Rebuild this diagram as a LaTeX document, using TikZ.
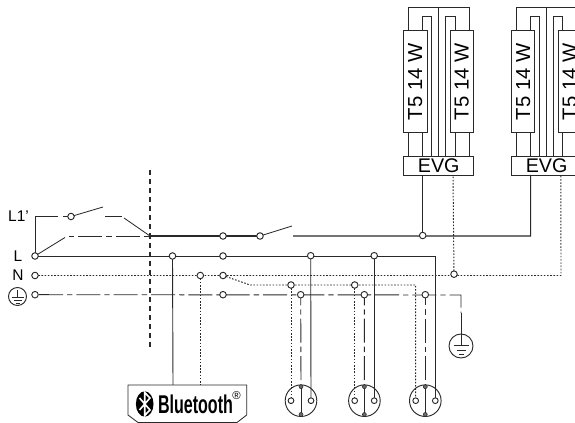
\documentclass[tikz,border=0pt]{standalone}
\usepackage{fontspec}
\usepackage{graphicx}
\setmainfont{Liberation Sans}
\usetikzlibrary{backgrounds}
\definecolor{ink}{gray}{0.16}
\tikzset{
  dot/.style={circle,draw=ink,fill=white,line width=0.7pt,inner sep=0pt,minimum size=4.9pt},
  pin/.style={circle,draw=ink,fill=ink!70,line width=0.4pt,inner sep=0pt,minimum size=3pt},
  wire/.style={draw=ink,line width=0.68pt},
  thin wire/.style={draw=ink,line width=0.62pt},
  dotw/.style={draw=ink,line width=0.72pt,dash pattern=on 1.2pt off 1.2pt},
  pe/.style={draw=ink,line width=0.68pt,dash pattern=on 18pt off 3pt on 4pt off 3pt},
  sep/.style={draw=ink,line width=1.5pt,dash pattern=on 3.8pt off 3pt},
  lamp/.style={draw=ink,line width=0.7pt,rotate=90,minimum width=76.7pt,minimum height=17.5pt,inner sep=0pt,font=\fontsize{15.2}{15.2}\selectfont},
  evg/.style={draw=ink,line width=0.7pt,minimum width=52.5pt,minimum height=14.25pt,inner sep=0pt,font=\fontsize{14.8}{14.8}\selectfont},
  lab/.style={inner sep=0pt,font=\fontsize{11.6}{11.6}\selectfont},
  sock/.style={circle,draw=ink,line width=0.7pt,inner sep=0pt,minimum size=23.7pt},
  earth/.style={circle,draw=ink,line width=0.7pt,inner sep=0pt},
}
\begin{document}
\begin{tikzpicture}[x=0.75pt,y=-0.75pt]
\useasboundingbox (0,0) rectangle (575,423);
\clip (0,0) rectangle (575,423);

% lamp groups
\foreach \g/\dx in {a/0,b/107.9}{
\begin{scope}[shift={(\dx,0)}]
  \node[lamp] (lampL\g) at (415.3,81.8) {T5 14 W};
  \node[lamp] (lampR\g) at (461.8,81.8) {T5 14 W};
  \node[evg] (evg\g) at (438.7,165.5) {\raisebox{-1.5pt}{EVG}};
  \coordinate (evgL\g) at (422.7,175);
  \coordinate (evgN\g) at (453,175);
  \begin{scope}[on background layer]
    \draw[thin wire] (408.3,30.7) |- (469,7.3) -- (469,30.7);
    \draw[thin wire] (422.3,30.7) |- (431.3,16.7) -- (431.3,156.3);
    \draw[thin wire] (445.7,156.3) |- (455,16.7) -- (455,30.7);
    \draw[ink,line width=1pt] (438.7,7.3) -- (438.7,156.3);
    \draw[thin wire] (408.3,133) -- (408.3,156.3);
    \draw[thin wire] (422.3,133) -- (422.3,156.3);
    \draw[thin wire] (455,133) -- (455,156.3);
    \draw[thin wire] (469,133) -- (469,156.3);
  \end{scope}
\end{scope}
}

% labels
\node[lab] (tL1) at (18.5,216.5) {L1'};
\node[lab] (tL) at (18,256) {L};
\node[lab] (tN) at (18,275.5) {N};
\node[earth,minimum size=13.5pt] (eL) at (17.5,296.5) {};
\node[earth,minimum size=18pt] (eR) at (461,346) {};

% terminals
\node[dot] (L0) at (35,256) {};
\node[dot] (N0) at (35,275.5) {};
\node[dot] (E0) at (35,294.7) {};
\node[dot] (S1) at (71,216.5) {};
\node[dot] (A1) at (223,236) {};
\node[dot] (S2) at (260,236) {};
\node[dot] (A2) at (422.7,235.5) {};
\node[dot] (L1) at (172.5,256) {};
\node[dot] (L2) at (223,256) {};
\node[dot] (L3) at (310.7,255.7) {};
\node[dot] (L4) at (374.2,255.7) {};
\node[dot] (N1) at (200.3,275.5) {};
\node[dot] (N2) at (223,275.5) {};
\node[dot] (N3) at (454,274.2) {};
\node[dot] (B1) at (291,285) {};
\node[dot] (B2) at (354.7,285) {};
\node[dot] (E1) at (223,294.7) {};
\node[dot] (E2) at (300.7,294.7) {};
\node[dot] (E3) at (364.3,294.7) {};
\node[dot] (E4) at (425.3,294.7) {};

% sockets
\foreach \n/\cx/\lx/\rx in {a/301/291/311,b/364.4/354.7/374.2,c/425.3/415.7/435.3}{
  \node[sock] (sock\n) at (\cx,400.7) {};
  \node[dot,minimum size=4.3pt] (pl\n) at (\lx,400.7) {};
  \node[dot,minimum size=4.3pt] (pr\n) at (\rx,400.7) {};
  \node[pin] (pt\n) at (\cx,386.7) {};
  \node[pin] (pb\n) at (\cx,414.5) {};
}

% Bluetooth module
\node[inner sep=0pt,font=\fontsize{17.2}{17.2}\selectfont\bfseries] (bttext) at (195.5,404) {\scalebox{0.7}[1.12]{Bluetooth}};
\node[inner sep=0pt,font=\fontsize{8.5}{8.5}\selectfont] (btreg) at (236.5,395.5) {\textregistered};
\coordinate (btL) at (173,385);
\coordinate (btN) at (200.3,385);

% named free ends
\coordinate (k0) at (35,216.5);
\coordinate (k1) at (103,207);
\coordinate (k2) at (105,216.5);
\coordinate (k3) at (122,216.5);
\coordinate (k3b) at (124,218);
\coordinate (k4) at (150,236);
\coordinate (k5) at (69,236);
\coordinate (k5b) at (65,237.5);
\coordinate (k6) at (292,226);
\coordinate (k7) at (293,236);
\coordinate (k8) at (530.6,236);
\coordinate (k9) at (435.3,256);
\coordinate (k10) at (561,275.5);
\coordinate (k11) at (250,285);
\coordinate (k12) at (415.7,285);
\coordinate (k13) at (461,295);
\coordinate (k14) at (461,313);
\coordinate (k15) at (461,346);
\coordinate (s1) at (150,170);
\coordinate (s2) at (150,351);
\coordinate (E0b) at (39,294.7);

\begin{scope}[on background layer]
  \draw[sep] (s1) -- (s2);
  % L1' branch
  \draw[wire] (L0.center) -- (k0);
  \draw[wire,dash pattern=on 17.5pt off 3.5pt on 200pt off 1pt] (k0) -- (S1.center);
  \draw[thin wire] (S1.center) -- (k1);
  \draw[thin wire] (k2) -- (k3);
  \draw[thin wire] (k3b) -- (k4);
  % switched line
  \draw[thin wire] (L0.center) -- (k5b);
  \draw[thin wire,dash pattern=on 4pt off 3pt on 18pt off 3pt] (k5) -- (k4);
  \draw[thin wire,line width=0.8pt] (k4) -- (S2.center);
  \draw[thin wire] (S2.center) -- (k6);
  \draw[thin wire,line width=0.8pt] (k7) -- (k8) -- (evgLb);
  \draw[thin wire] (A2.center) -- (evgLa);
  % L rail
  \draw[wire] (L0.center) -- (k9) -- (prc.center);
  \draw[wire] (L1.center) -- (btL);
  \draw[wire] (L3.center) -- (pra.center);
  \draw[wire] (L4.center) -- (prb.center);
  % N rail
  \draw[dotw] (N0.center) -- (k10) -- (evgNb);
  \draw[dotw] (N3.center) -- (evgNa);
  \draw[dotw] (N1.center) -- (btN);
  \draw[dotw] (N2.center) -- (k11) -- (k12) -- (plc.center);
  \draw[dotw] (B1.center) -- (pla.center);
  \draw[dotw] (B2.center) -- (plb.center);
  % PE rail
  \draw[pe] (E0b) -- (k13) -- (k14);
  \draw[thin wire] (k14) -- (k15);
  \foreach \e/\n in {E2/a,E3/b,E4/c}{
    \draw[pe,dash phase=10pt] (\e.center) -- (pt\n.center);
    \draw[wire] (pt\n.center) -- (pb\n.center);
  }
  % earth symbols
  \draw[thin wire] (17.5,290) -- (17.5,297);
  \draw[thin wire] (11.5,297.5) -- (23.5,297.5);
  \draw[thin wire] (13.5,300.5) -- (21.5,300.5);
  \draw[thin wire] (15.5,303) -- (19.5,303);
  \draw[thin wire] (454,345.7) -- (468.5,345.7);
  \draw[thin wire] (456.5,350) -- (466,350);
  \draw[thin wire] (459,354) -- (463.5,354);
\end{scope}

% Bluetooth outline and mark
\draw[thin wire,line join=round] (128,385) -- (246.7,385) -- (246.7,415) -- (237,422.5) -- (138,422.5) -- (128,415) -- cycle;
\fill[black] (144.7,404) ellipse [x radius=8.8,y radius=12.7];
\draw[white,line width=1.2pt,line join=miter] (139.5,398) -- (150,410) -- (144.7,415.5) -- (144.7,392.5) -- (150,398) -- (139.5,410);
\end{tikzpicture}
\end{document}
